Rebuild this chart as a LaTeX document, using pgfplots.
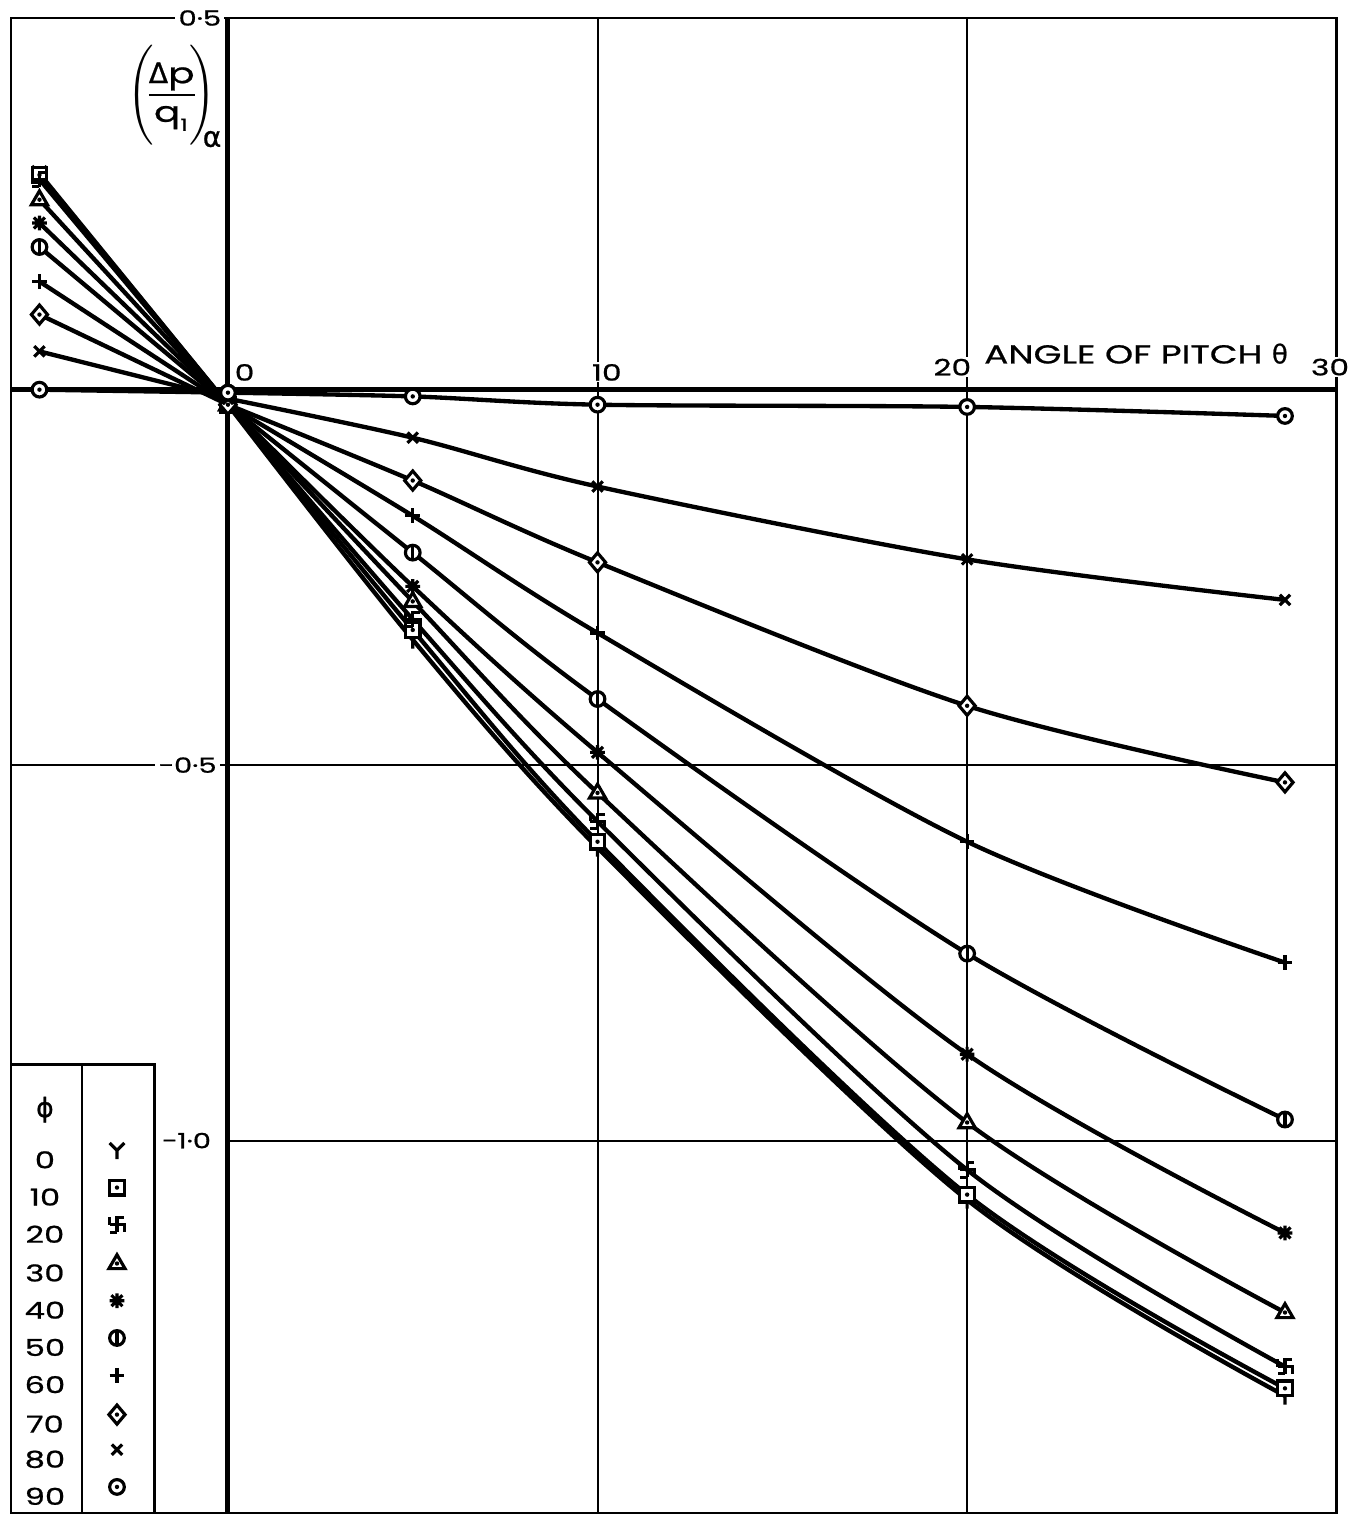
\documentclass[border=0pt]{standalone}
\usepackage{pgfplots}
\pgfplotsset{compat=1.18}
\usepackage{fontspec}
\setmainfont{Poppins}[FakeStretch=1.38, FakeBold=0.8]
\newfontfamily\gfont{DejaVu Sans}[FakeBold=0.8]

\pgfdeclareplotmark{ymark}{%
  \pgfpathmoveto{\pgfqpoint{-\pgfplotmarksize}{\pgfplotmarksize}}%
  \pgfpathlineto{\pgfpointorigin}%
  \pgfpathlineto{\pgfqpoint{\pgfplotmarksize}{\pgfplotmarksize}}%
  \pgfpathmoveto{\pgfpointorigin}%
  \pgfpathlineto{\pgfqpoint{0pt}{-1.2\pgfplotmarksize}}%
  \pgfusepathqstroke}
\pgfdeclareplotmark{sqdot}{%
  \pgfpathrectangle{\pgfqpoint{-\pgfplotmarksize}{-\pgfplotmarksize}}{\pgfqpoint{2\pgfplotmarksize}{2\pgfplotmarksize}}%
  \pgfusepathqfillstroke
  \begin{pgfscope}\pgfsetfillcolor{black}%
  \pgfpathcircle{\pgfpointorigin}{0.3\pgfplotmarksize}\pgfusepathqfill\end{pgfscope}}
\pgfdeclareplotmark{swas}{%
  \pgfpathmoveto{\pgfqpoint{0pt}{-\pgfplotmarksize}}%
  \pgfpathlineto{\pgfqpoint{0pt}{\pgfplotmarksize}}%
  \pgfpathlineto{\pgfqpoint{\pgfplotmarksize}{\pgfplotmarksize}}%
  \pgfpathmoveto{\pgfqpoint{-\pgfplotmarksize}{0pt}}%
  \pgfpathlineto{\pgfqpoint{\pgfplotmarksize}{0pt}}%
  \pgfpathlineto{\pgfqpoint{\pgfplotmarksize}{-\pgfplotmarksize}}%
  \pgfpathmoveto{\pgfqpoint{0pt}{-\pgfplotmarksize}}%
  \pgfpathlineto{\pgfqpoint{-\pgfplotmarksize}{-\pgfplotmarksize}}%
  \pgfpathmoveto{\pgfqpoint{-\pgfplotmarksize}{0pt}}%
  \pgfpathlineto{\pgfqpoint{-\pgfplotmarksize}{\pgfplotmarksize}}%
  \pgfusepathqstroke}
\pgfdeclareplotmark{tridot}{%
  \pgfpathmoveto{\pgfqpoint{0pt}{1.2\pgfplotmarksize}}%
  \pgfpathlineto{\pgfqpoint{-1.1\pgfplotmarksize}{-0.7\pgfplotmarksize}}%
  \pgfpathlineto{\pgfqpoint{1.1\pgfplotmarksize}{-0.7\pgfplotmarksize}}%
  \pgfpathclose
  \pgfusepathqfillstroke
  \begin{pgfscope}\pgfsetfillcolor{black}%
  \pgfpathcircle{\pgfpointorigin}{0.3\pgfplotmarksize}\pgfusepathqfill\end{pgfscope}}
\pgfdeclareplotmark{heavyast}{%
  \pgfpathmoveto{\pgfqpoint{-\pgfplotmarksize}{0pt}}\pgfpathlineto{\pgfqpoint{\pgfplotmarksize}{0pt}}%
  \pgfpathmoveto{\pgfqpoint{0pt}{-\pgfplotmarksize}}\pgfpathlineto{\pgfqpoint{0pt}{\pgfplotmarksize}}%
  \pgfpathmoveto{\pgfqpoint{-0.75\pgfplotmarksize}{-0.75\pgfplotmarksize}}\pgfpathlineto{\pgfqpoint{0.75\pgfplotmarksize}{0.75\pgfplotmarksize}}%
  \pgfpathmoveto{\pgfqpoint{-0.75\pgfplotmarksize}{0.75\pgfplotmarksize}}\pgfpathlineto{\pgfqpoint{0.75\pgfplotmarksize}{-0.75\pgfplotmarksize}}%
  \pgfusepathqstroke}
\pgfdeclareplotmark{obar}{%
  \pgfpathcircle{\pgfpointorigin}{\pgfplotmarksize}\pgfusepathqfillstroke
  \pgfpathmoveto{\pgfqpoint{0pt}{-\pgfplotmarksize}}\pgfpathlineto{\pgfqpoint{0pt}{\pgfplotmarksize}}%
  \pgfusepathqstroke}
\pgfdeclareplotmark{diadot}{%
  \pgfpathmoveto{\pgfqpoint{0pt}{1.3\pgfplotmarksize}}%
  \pgfpathlineto{\pgfqpoint{1.1\pgfplotmarksize}{0pt}}%
  \pgfpathlineto{\pgfqpoint{0pt}{-1.3\pgfplotmarksize}}%
  \pgfpathlineto{\pgfqpoint{-1.1\pgfplotmarksize}{0pt}}%
  \pgfpathclose
  \pgfusepathqfillstroke
  \begin{pgfscope}\pgfsetfillcolor{black}%
  \pgfpathcircle{\pgfpointorigin}{0.3\pgfplotmarksize}\pgfusepathqfill\end{pgfscope}}
\pgfdeclareplotmark{odotm}{%
  \pgfpathcircle{\pgfpointorigin}{\pgfplotmarksize}\pgfusepathqfillstroke
  \begin{pgfscope}\pgfsetfillcolor{black}%
  \pgfpathcircle{\pgfpointorigin}{0.3\pgfplotmarksize}\pgfusepathqfill\end{pgfscope}}

\begin{document}
\begin{tikzpicture}
\useasboundingbox (-3.3pt,-1.2pt) rectangle (405.6pt,454.0pt);
\begin{axis}[
  scale only axis, width=397.8pt, height=448.6pt,
  xmin=-5.87, xmax=30, ymin=-1.496, ymax=0.495,
  axis line style={line width=0.75pt},
  xtick=\empty, ytick=\empty,
  clip=false,
  every axis plot/.append style={black, line width=1.3pt, mark size=2.2pt,
     mark options={solid, line width=0.95pt, fill=white}},
  legend plot pos=right,
  legend cell align=center,
  legend image code/.code={\draw[#1] plot[only marks] coordinates {(0pt,2.4pt)};},
  legend style={at={(axis cs:-5.583,-0.942)}, anchor=north west,
     draw=none, fill=none, inner sep=0pt, outer sep=0pt,
     row sep=3.57pt, column sep=12.2pt,
     nodes={inner sep=0pt, outer sep=0pt, text height=6pt, text depth=0pt,
            text width=14pt, align=center, font=\fontsize{7}{8}\selectfont}},
]
% grid and heavy axes
\draw[line width=0.6pt] (axis cs:10,-1.496) -- (axis cs:10,0.495);
\draw[line width=0.6pt] (axis cs:20,-1.496) -- (axis cs:20,0.495);
\draw[line width=0.6pt] (axis cs:-5.87,-0.5) -- (axis cs:30,-0.5);
\draw[line width=0.6pt] (axis cs:0,-1.0) -- (axis cs:30,-1.0);
\draw[line width=1.5pt] (axis cs:-5.87,0) -- (axis cs:30,0);
\draw[line width=1.5pt] (axis cs:0,-1.496) -- (axis cs:0,0.495);
% legend frame
\draw[line width=0.75pt] (axis cs:-5.87,-0.899) rectangle (axis cs:-1.99,-1.496);
\draw[line width=0.75pt] (axis cs:-3.95,-0.899) -- (axis cs:-3.95,-1.496);

\addlegendimage{empty legend}
\addlegendentry[text depth=4.24pt]{\gfont\fontsize{8}{8}\selectfont ϕ}

% phi = 0
\addplot[mark=ymark, forget plot] coordinates {(-5.1,0.288) (0,-0.02)};
\addplot[mark=ymark, smooth] coordinates {(0,-0.02) (5,-0.333) (10,-0.610) (20,-1.079) (28.6,-1.340)};
\addlegendentry{0}
% phi = 10
\addplot[mark=sqdot, forget plot] coordinates {(-5.1,0.286) (0,-0.02)};
\addplot[mark=sqdot, smooth] coordinates {(0,-0.02) (5,-0.320) (10,-0.602) (20,-1.072) (28.6,-1.330)};
\addlegendentry{10}
% phi = 20
\addplot[mark=swas, forget plot] coordinates {(-5.1,0.280) (0,-0.02)};
\addplot[mark=swas, smooth] coordinates {(0,-0.02) (5,-0.306) (10,-0.575) (20,-1.039) (28.6,-1.301)};
\addlegendentry{20}
% phi = 30
\addplot[mark=tridot, forget plot] coordinates {(-5.1,0.253) (0,-0.02)};
\addplot[mark=tridot, smooth] coordinates {(0,-0.02) (5,-0.282) (10,-0.537) (20,-0.976) (28.6,-1.229)};
\addlegendentry{30}
% phi = 40
\addplot[mark=heavyast, forget plot] coordinates {(-5.1,0.222) (0,-0.02)};
\addplot[mark=heavyast, smooth] coordinates {(0,-0.02) (5,-0.262) (10,-0.483) (20,-0.885) (28.6,-1.123)};
\addlegendentry{40}
% phi = 50
\addplot[mark=obar, forget plot] coordinates {(-5.1,0.190) (0,-0.02)};
\addplot[mark=obar, smooth] coordinates {(0,-0.02) (5,-0.217) (10,-0.412) (20,-0.751) (28.6,-0.972)};
\addlegendentry{50}
% phi = 60
\addplot[mark=+, forget plot] coordinates {(-5.1,0.144) (0,-0.02)};
\addplot[mark=+, smooth] coordinates {(0,-0.02) (5,-0.168) (10,-0.324) (20,-0.602) (28.6,-0.763)};
\addlegendentry{60}
% phi = 70
\addplot[mark=diadot, forget plot] coordinates {(-5.1,0.100) (0,-0.02)};
\addplot[mark=diadot, smooth] coordinates {(0,-0.02) (5,-0.121) (10,-0.230) (20,-0.421) (28.6,-0.523)};
\addlegendentry{70}
% phi = 80
\addplot[mark=x, forget plot] coordinates {(-5.1,0.051) (0,-0.012)};
\addplot[mark=x, smooth] coordinates {(0,-0.012) (5,-0.064) (10,-0.129) (20,-0.226) (28.6,-0.280)};
\addlegendentry{80}
% phi = 90
\addplot[mark=odotm, forget plot] coordinates {(-5.1,0.0) (0,-0.004)};
\addplot[mark=odotm, smooth] coordinates {(0,-0.004) (5,-0.009) (10,-0.020) (20,-0.023) (28.6,-0.035)};
\addlegendentry{90}

% tick labels and titles
\node[fill=white, inner sep=1pt, font=\fontsize{6.3}{7}\selectfont] at (axis cs:-0.76,0.495) {0·5};
\node[fill=white, inner sep=1pt, anchor=east, font=\fontsize{6.3}{7}\selectfont] at (axis cs:-0.2,-0.5) {−0·5};
\node[fill=white, inner sep=1pt, anchor=east, font=\fontsize{6.3}{7}\selectfont] at (axis cs:-0.35,-1.0) {−1·0};
\node[fill=white, inner sep=0.5pt, font=\fontsize{6.8}{8}\selectfont] at (axis cs:0.45,0.023) {0};
\node[fill=white, inner sep=0.5pt, font=\fontsize{6.8}{8}\selectfont] at (axis cs:10.25,0.023) {10};
\node[fill=white, inner sep=0.5pt, font=\fontsize{6.8}{8}\selectfont] at (axis cs:19.6,0.03) {20};
\node[fill=white, inner sep=0.5pt, font=\fontsize{6.8}{8}\selectfont] at (axis cs:29.82,0.03) {30};
\node[font=\fontsize{7.8}{9}\selectfont] at (axis cs:24.57,0.048) {ANGLE OF PITCH {\gfont θ}};
\node[font=\fontsize{8.5}{10}\selectfont, inner sep=0pt] at (axis cs:-1.42,0.392)
  {$\displaystyle\left(\rule[-12.5pt]{0pt}{30pt}\!\!\frac{\mbox{\gfont Δ}\mbox{p}}{\mbox{q}_{\mbox{\fontsize{5}{5}\selectfont 1}}}\!\!\right)_{\!\!\!\mbox{\gfont α}}$};
\end{axis}
\end{tikzpicture}
\end{document}
